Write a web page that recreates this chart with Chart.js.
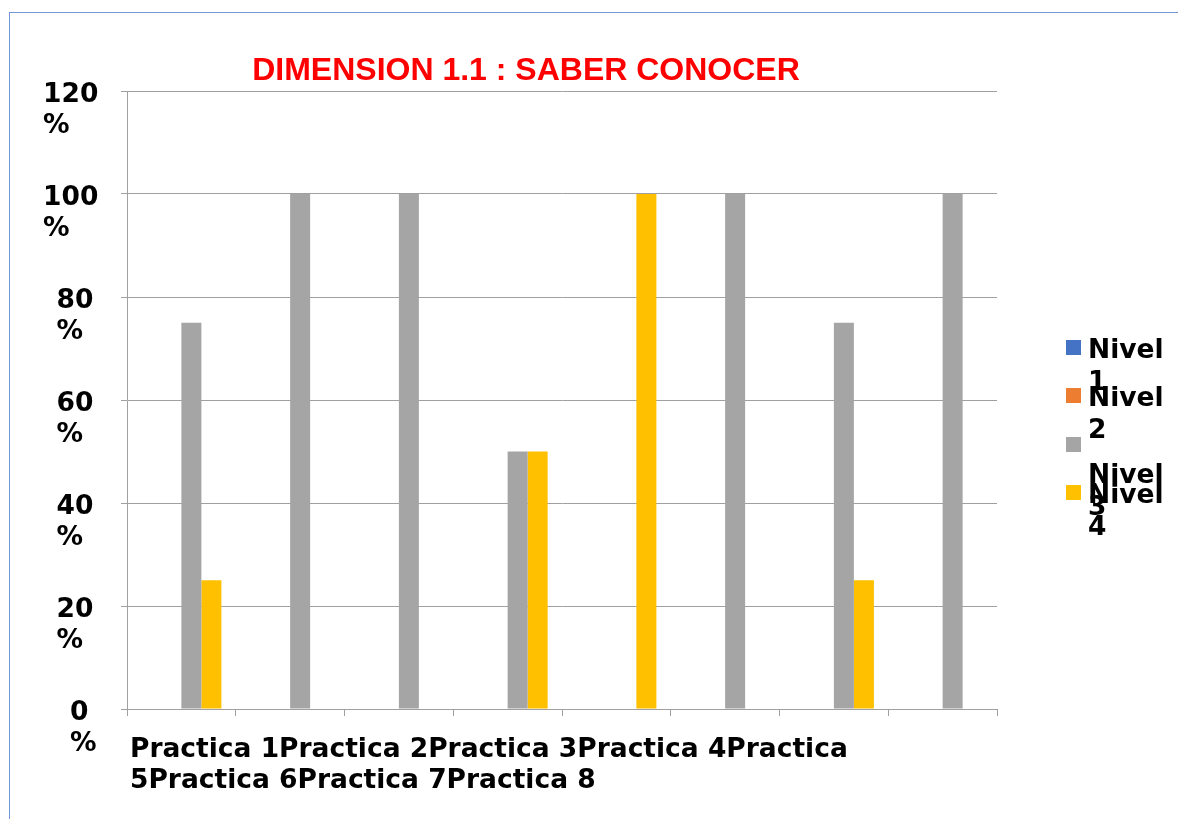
<!DOCTYPE html>
<html lang="es">
<head>
  <meta charset="UTF-8">
  <title>Dimension 1.1 : Saber conocer</title>
  <style>
    body {
      margin: 0;
      padding: 0;
      background-color: #ffffff;
      font-family: 'DejaVu Sans', sans-serif;
    }
    .page {
      position: relative;
      width: 1178px;
      height: 819px;
      overflow: hidden;
    }
    .frame {
      position: absolute;
      left: 9px;
      top: 12px;
      width: 1400px;
      height: 1000px;
      border-left: 1px solid #7396d6;
      border-top: 1px solid #7396d6;
    }
    #chart {
      position: absolute;
      left: 0;
      top: 0;
    }
    .title {
      position: absolute;
      left: 0;
      top: 53px;
      width: 1052px;
      text-align: center;
      font: bold 32px 'Liberation Sans', Arial, sans-serif;
      line-height: 32px;
      color: #ff0000;
    }
    .legend-item {
      position: absolute;
      left: 1066px;
    }
    .legend-item .box {
      position: absolute;
      left: 0;
      top: 0;
      width: 15px;
      height: 15px;
    }
    .legend-item .text {
      position: absolute;
      left: 22px;
      top: -7px;
      width: 90px;
      font: bold 26.5px 'DejaVu Sans', sans-serif;
      line-height: 32px;
      color: #000;
    }
  </style>
</head>
<body>
  <div class="page">
    <div class="frame"></div>
    <canvas id="chart" width="1178" height="819"></canvas>
    <div class="title" id="title"></div>
    <div id="legend"></div>
  </div>

  <script src="https://cdn.jsdelivr.net/npm/chart.js"></script>
  <script>
    // données
    const chartTitle = 'DIMENSION 1.1 : SABER CONOCER';
    const categories = ['Practica 1', 'Practica 2', 'Practica 3', 'Practica 4',
                        'Practica 5', 'Practica 6', 'Practica 7', 'Practica 8'];
    const seriesNames = ['Nivel 1', 'Nivel 2', 'Nivel 3', 'Nivel 4'];
    const nivel1 = [0, 0, 0, 0, 0, 0, 0, 0];
    const nivel2 = [0, 0, 0, 0, 0, 0, 0, 0];
    const nivel3 = [75, 100, 100, 50, 0, 100, 75, 100];
    const nivel4 = [25, 0, 0, 50, 100, 0, 25, 0];
    const yMax = 120;
    const yStep = 20;
    const tickSuffix = '%';

    const colors = ['#4472c4', '#ed7d31', '#a5a5a5', '#ffc000'];
    const values = [nivel1, nivel2, nivel3, nivel4];

    document.getElementById('title').textContent = chartTitle;

    // étiquettes des axes dessinées à la main (style du modèle)
    const axisLabels = {
      id: 'axisLabels',
      afterDraw(chart) {
        const ctx = chart.ctx;
        const ys = chart.scales.y;
        const xs = chart.scales.x;
        ctx.save();
        ctx.font = 'bold 26.5px "DejaVu Sans"';
        ctx.fillStyle = '#000';
        ctx.textAlign = 'left';
        ctx.textBaseline = 'middle';
        ys.ticks.forEach(t => {
          const py = ys.getPixelForValue(t.value);
          const txt = String(t.value);
          const px = 43 + (3 - txt.length) * 13.5;
          ctx.fillText(txt, px, py + 4);
          ctx.fillText(tickSuffix, px, py + 35);
        });

        // catégories collées puis coupées en lignes
        const words = categories.join('').split(' ');
        const maxW = (xs.right - xs.left) * 0.86;
        const lines = [];
        let line = '';
        words.forEach(w => {
          const test = line ? line + ' ' + w : w;
          if (ctx.measureText(test).width > maxW && line) {
            lines.push(line);
            line = w;
          } else {
            line = test;
          }
        });
        if (line) lines.push(line);
        ctx.textBaseline = 'alphabetic';
        lines.forEach((l, i) => {
          ctx.fillText(l, xs.left + 3, ys.bottom + 48 + i * 31);
        });
        ctx.restore();
      }
    };

    const chart = new Chart(document.getElementById('chart'), {
      type: 'bar',
      data: {
        labels: categories,
        datasets: seriesNames.map((name, i) => ({
          label: name,
          data: values[i],
          backgroundColor: colors[i],
          borderWidth: 0,
          categoryPercentage: 0.736,
          barPercentage: 1
        }))
      },
      options: {
        responsive: false,
        animation: false,
        layout: {
          padding: { left: 121, right: 181, top: 91, bottom: 103 }
        },
        plugins: {
          legend: { display: false },
          title: { display: false },
          tooltip: { enabled: false }
        },
        scales: {
          x: {
            ticks: { display: false },
            grid: {
              offset: true,
              drawOnChartArea: false,
              color: '#a0a0a0',
              tickLength: 7
            },
            border: { color: '#a0a0a0' }
          },
          y: {
            min: 0,
            max: yMax,
            ticks: { display: false, stepSize: yStep },
            grid: {
              color: '#a0a0a0',
              tickLength: 6
            },
            border: { color: '#a0a0a0' }
          }
        }
      },
      plugins: [axisLabels]
    });

    // légende construite à partir des jeux de données
    const legend = document.getElementById('legend');
    chart.data.datasets.forEach((ds, i) => {
      const item = document.createElement('div');
      item.className = 'legend-item';
      item.style.top = (340 + i * 48.3) + 'px';
      const box = document.createElement('div');
      box.className = 'box';
      box.style.background = ds.backgroundColor;
      const text = document.createElement('div');
      text.className = 'text';
      text.textContent = ds.label;
      if (i === 2) text.style.top = '21px';
      item.appendChild(box);
      item.appendChild(text);
      legend.appendChild(item);
    });
  </script>
</body>
</html>
